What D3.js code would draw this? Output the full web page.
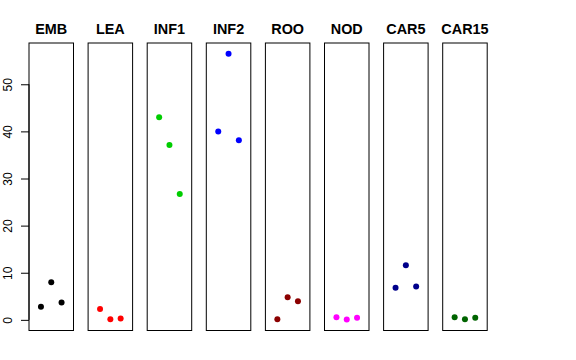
<!DOCTYPE html>
<html>
<head>
<meta charset="utf-8">
<script src="https://cdn.jsdelivr.net/npm/d3@7"></script>
<style>
  body { margin: 0; background: #fff; }
  text { font-family: "Liberation Sans", Arial, sans-serif; }
</style>
</head>
<body>
<svg width="576" height="360"></svg>
<script>
var groups = ["EMB", "LEA", "INF1", "INF2", "ROO", "NOD", "CAR5", "CAR15"];
var colors = ["#000000", "#ff0000", "#00cd00", "#0000ff", "#8b0000", "#ff00ff", "#00008b", "#006400"];
// three replicates per group
var rep1 = [2.8, 2.3, 43.0, 40.0, 0.15, 0.55, 6.8, 0.55];
var rep2 = [8.0, 0.15, 37.1, 56.5, 4.8, 0.08, 11.6, 0.15];
var rep3 = [3.7, 0.3, 26.7, 38.1, 3.95, 0.42, 7.1, 0.42];
var yTicks = [0, 10, 20, 30, 40, 50];

var svg = d3.select("svg"),
    plotTop = 43, plotBottom = 330.5,
    panelW = 44.5, firstX = 29, step = 59.1;

var allVals = rep1.concat(rep2, rep3);
var ymax = d3.max(allVals), ymin = 0;
var pad = (ymax - ymin) * 0.04;

var y = d3.scaleLinear()
    .domain([ymin - pad, ymax + pad])
    .range([plotBottom, plotTop]);

// y axis on the first panel
var axis = svg.append("g")
    .attr("transform", "translate(" + firstX + ",0)")
    .call(d3.axisLeft(y).tickValues(yTicks).tickSize(8).tickPadding(0).tickFormat(d3.format("d")));
axis.select(".domain").attr("d", "M0," + y(0) + "V" + y(50)).attr("stroke", "#000");
axis.selectAll(".tick line").attr("stroke", "#000");
axis.selectAll(".tick text")
    .attr("transform", "rotate(-90)")
    .attr("x", 0).attr("y", -17)
    .attr("dy", "0")
    .attr("text-anchor", "middle")
    .style("font-size", "12px")
    .style("font-family", "Liberation Sans, Arial, sans-serif")
    .attr("fill", "#000");

groups.forEach(function(name, i) {
  var x0 = firstX + i * step;
  var x = d3.scaleLinear().domain([-0.16, 4.16]).range([x0, x0 + panelW]);
  var g = svg.append("g");

  g.append("rect")
      .attr("x", x0).attr("y", plotTop)
      .attr("width", panelW).attr("height", plotBottom - plotTop)
      .attr("fill", "none").attr("stroke", "#000").attr("stroke-width", 1);

  g.append("text")
      .attr("x", x0 + panelW / 2).attr("y", 34)
      .attr("text-anchor", "middle")
      .style("font-size", "14.4px").style("font-weight", "bold")
      .text(name);

  var pts = [rep1[i], rep2[i], rep3[i]];
  g.selectAll("circle")
      .data(pts)
      .enter()
      .append("circle")
      .attr("cx", function(d, j) { return x(j + 1); })
      .attr("cy", function(d) { return y(d); })
      .attr("r", 3)
      .attr("fill", colors[i]);
});
</script>
</body>
</html>
